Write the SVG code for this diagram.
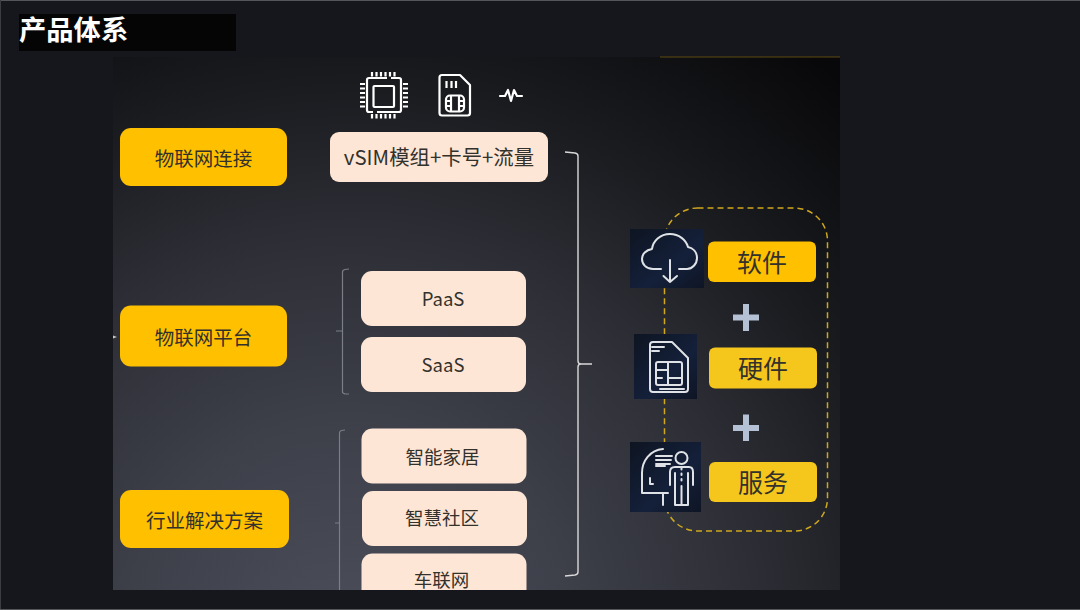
<svg xmlns="http://www.w3.org/2000/svg" width="1080" height="610" viewBox="0 0 1080 610">
<defs>
<radialGradient id="pg" gradientUnits="userSpaceOnUse" cx="350" cy="640" r="745">
<stop offset="0" stop-color="#4c4e5b"/><stop offset="0.3" stop-color="#3d3f49"/><stop offset="0.56" stop-color="#2c2d34"/><stop offset="0.74" stop-color="#1b1c20"/><stop offset="0.84" stop-color="#131417"/><stop offset="1" stop-color="#08080a"/>
</radialGradient>
<linearGradient id="ib" x1="0" y1="0" x2="1" y2="1"><stop offset="0" stop-color="#0e1522"/><stop offset="0.6" stop-color="#14203a"/><stop offset="1" stop-color="#0e1524"/></linearGradient>
<clipPath id="pc"><rect x="113" y="57" width="727" height="533"/></clipPath>
</defs>
<style>
.cn{font-family:"Noto Sans CJK SC","Liberation Sans",sans-serif;fill:#33312c;text-anchor:middle}
.y{fill:#ffc000}.y2{fill:#f5c71c}.p{fill:#fde6d6}
.br{fill:none;stroke:#7b7e87;stroke-width:1.2}
.bw{fill:none;stroke:#d9d9d9;stroke-width:1.4}
.ic{fill:none;stroke:#dfe2e6;stroke-width:2;stroke-linecap:round;stroke-linejoin:round}
.ih{fill:none;stroke:#ffffff;stroke-width:2.2;stroke-linejoin:round}
.plus{fill:#b4c1d4}
</style>
<rect width="1080" height="610" fill="#16171c"/>
<path d="M0 .5H1080" stroke="#55565a" fill="none"/>
<path d="M.5 0V610" stroke="#3c3d42" fill="none"/>
<path d="M0 609.5H1080" stroke="#55565a" fill="none"/>
<rect x="113" y="57" width="727" height="533" fill="url(#pg)"/>
<path d="M660 57H840" stroke="#5c4a10" stroke-width="1" fill="none"/>
<g id="title"><rect x="19" y="14" width="217" height="37" fill="#050505"/><text x="19" y="40" font-family="'Noto Sans CJK SC',sans-serif" font-weight="700" font-size="27.300" fill="#fff">产品体系</text></g>
<g id="connectors">
<path class="bw" d="M565 152L575 153Q578 153.500 578 156V361Q578 364 581 364H592H581Q578 364 578 367V572Q578 574.500 575 575L565 576"/>
<path class="br" d="M349 269L345 269.500Q342.500 270 342.500 272V331H336H342.500V392Q342.500 393.500 345 393.800L349 394"/>
<path class="br" clip-path="url(#pc)" d="M345 430L341.500 430.500Q339.500 431 339.500 433V523H335H339.500V620"/>
<path d="M113 335.500L117 337L113 338.500Z" fill="#c8c8c8"/>
<rect id="dash" x="664.500" y="208" width="163" height="323" rx="33" fill="none" stroke="#d0a81e" stroke-width="1.500" stroke-dasharray="6 4"/>
</g>
<g id="n-iot-connect"><rect class="y" x="120" y="128" width="167" height="58" rx="11"/><text class="cn" x="203.500" y="166" font-size="19.500">物联网连接</text></g>
<g id="n-iot-platform"><rect class="y" x="120" y="305.500" width="167" height="61" rx="11"/><text class="cn" x="203.500" y="345" font-size="19.500">物联网平台</text></g>
<g id="n-solutions"><rect class="y" x="120" y="490" width="169" height="58" rx="11"/><text class="cn" x="204.500" y="528" font-size="19.500">行业解决方案</text></g>
<g id="n-vsim"><rect class="p" x="330" y="132" width="218" height="50" rx="9"/><text class="cn" x="439" y="165" font-size="20.400">vSIM模组+卡号+流量</text></g>
<g id="n-paas"><rect class="p" x="361" y="271" width="165" height="55" rx="11"/><text class="cn" x="443" y="306" font-size="18.500">PaaS</text></g>
<g id="n-saas"><rect class="p" x="361" y="337" width="165" height="55" rx="11"/><text class="cn" x="443" y="372" font-size="18.500">SaaS</text></g>
<g id="n-home"><rect class="p" x="361.500" y="428.500" width="165" height="55" rx="11"/><text class="cn" x="442.500" y="464" font-size="18.500">智能家居</text></g>
<g id="n-community"><rect class="p" x="362" y="491" width="165" height="55" rx="11"/><text class="cn" x="442" y="525" font-size="18.500">智慧社区</text></g>
<g id="n-car" clip-path="url(#pc)"><rect class="p" x="361.500" y="553.500" width="165" height="55" rx="11"/><text class="cn" x="441.500" y="587" font-size="18.500">车联网</text></g>
<g id="i-chip">
<path class="ih" d="M387 78H369Q367 78 367 80V110Q367 112 369 112H373M377 112H399Q401 112 401 110V80Q401 78 399 78H391"/>
<rect class="ih" x="373.500" y="86" width="20.500" height="21" rx="1"/>
<path class="ih" stroke-width="1.600" d="M372 72V76.500M376.500 72V76.500M381 72V76.500M385.500 72V76.500M390 72V76.500M394.500 72V76.500M372 114V118.500M376.500 114V118.500M381 114V118.500M385.500 114V118.500M390 114V118.500M394.500 114V118.500"/>
<path class="ih" stroke-width="1.600" d="M360 84H365M360 88.500H365M360 93H365M360 97.500H365M360 102H365M360 106.500H365M403 84H408M403 88.500H408M403 93H408M403 97.500H408M403 102H408M403 106.500H408"/>
</g>
<g id="i-sim">
<path class="ih" stroke-width="2.400" d="M442 75H460L470 85V113Q470 115.500 467.500 115.500H442Q439.500 115.500 439.500 113V77.500Q439.500 75 442 75Z"/>
<path class="ih" stroke-width="1.500" d="M446.500 81V88M451.500 81V88M456 81V88"/>
<rect class="ih" stroke-width="1.600" x="446" y="95.500" width="18" height="16" rx="4"/>
<path class="ih" stroke-width="1.400" d="M446 101H451V106H446M464 101H459V106H464M451 95.500V101M459 95.500V101M451 106V111.500M459 106V111.500"/>
</g>
<g id="i-pulse"><path class="ih" stroke-width="2" stroke-linecap="round" d="M500 96H505L508 90L511 101L514 90L517 96H522"/></g>
<g id="i-cloud"><rect x="630" y="229" width="74" height="59" fill="url(#ib)"/>
<path class="ic" d="M661 269H653C646 269 642 264 642 259C642 254 646 250 652 249C653 241 660 234 670 234C679 234 686 240 688 247C693 248 697 252 697 258C697 264 692 269 687 269H679"/>
<path class="ic" d="M670 260V282M663.500 276L670 282L677 276"/></g>
<g id="i-simcard"><rect x="634" y="334" width="63" height="65" fill="url(#ib)"/>
<path class="ic" stroke="#c8ccd2" stroke-width="1.800" d="M653 342H672L688 358V389Q688 392 685 392H653Q650 392 650 389V345Q650 342 653 342Z"/>
<path class="ic" stroke-width="1.500" d="M652 347H664M652 351H659"/>
<rect class="ic" stroke-width="1.800" x="656" y="362" width="26" height="23" rx="2"/>
<path class="ic" stroke-width="1.500" d="M656 370H668V362M668 370V385M668 378H682M656 378H662M660 389H684"/></g>
<g id="i-person"><rect x="630" y="442" width="71" height="70" fill="url(#ib)"/>
<path class="ic" stroke-width="1.600" d="M663 449C650 450 642 461 642 473V493H668M663 493V505M650 478V484H653"/>
<path class="ic" stroke-width="1.400" d="M656 456H672M656 460H671M656 464H670M656 466H665"/>
<circle class="ic" stroke-width="1.800" cx="681.500" cy="458" r="6"/>
<path class="ic" stroke-width="1.600" d="M670 485V472Q670 467 675 467H689Q693 467 693 472V485M675 473V505H681.500V486M688 473V505H681.500"/>
<path class="ic" stroke-width="1.400" stroke-dasharray="1.500 4" d="M681.500 468V484"/></g>
<g id="n-software"><rect class="y" x="708" y="241.500" width="108" height="40.500" rx="6"/><text class="cn" x="762" y="271.500" font-size="25">软件</text></g>
<g id="n-hardware"><rect class="y2" x="709" y="347.500" width="108" height="41" rx="6"/><text class="cn" x="763" y="377.500" font-size="25">硬件</text></g>
<g id="n-service"><rect class="y2" x="709" y="462" width="108" height="40" rx="6"/><text class="cn" x="763" y="492" font-size="25">服务</text></g>
<g id="plus1"><path class="plus" d="M733 314.500H743V304H749V314.500H759V320.500H749V331H743V320.500H733Z"/></g>
<g id="plus2"><path class="plus" d="M733 425H743V414.500H749V425H759V431H749V441H743V431H733Z"/></g>
</svg>
